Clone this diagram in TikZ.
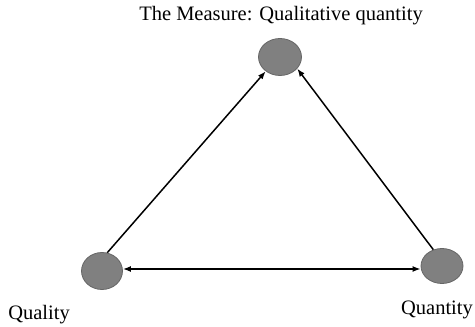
\documentclass[tikz,border=0pt]{standalone}
\usepackage{fontspec}
\setmainfont{Liberation Serif}
\usetikzlibrary{shapes.geometric,arrows.meta}
\begin{document}
\begin{tikzpicture}[x=1pt,y=1pt,
  blob/.style={ellipse,draw=black!60,line width=0.8pt,fill=black!50,inner sep=0pt},
  conn/.style={line width=1.5pt,-{Latex[length=8pt,width=6pt]}},
  lbl/.style={font=\fontsize{20.5pt}{24pt}\selectfont,anchor=base,inner sep=0pt}]
\useasboundingbox (0,0) rectangle (475,327);
\node[blob,minimum width=43pt,minimum height=37pt] (T) at (280,270) {};
\node[blob,minimum width=41pt,minimum height=37pt] (L) at (102,56) {};
\node[blob,minimum width=42pt,minimum height=35pt] (R) at (442,61) {};
\node[lbl] (tT) at (281,306) {The Measure: Qualitative quantity};
\node[lbl] (tL) at (39,7) {Quality};
\node[lbl] (tR) at (437,12) {Quantity};
\draw[conn] (L.74) -- (T.225);
\draw[conn] (R.118) -- (T.-34);
\coordinate (h) at (0,58);
\draw[conn,{Latex[length=8pt,width=6pt]}-{Latex[length=8pt,width=6pt]}] (L.east |- h) -- (R.west |- h);
\end{tikzpicture}
\end{document}
